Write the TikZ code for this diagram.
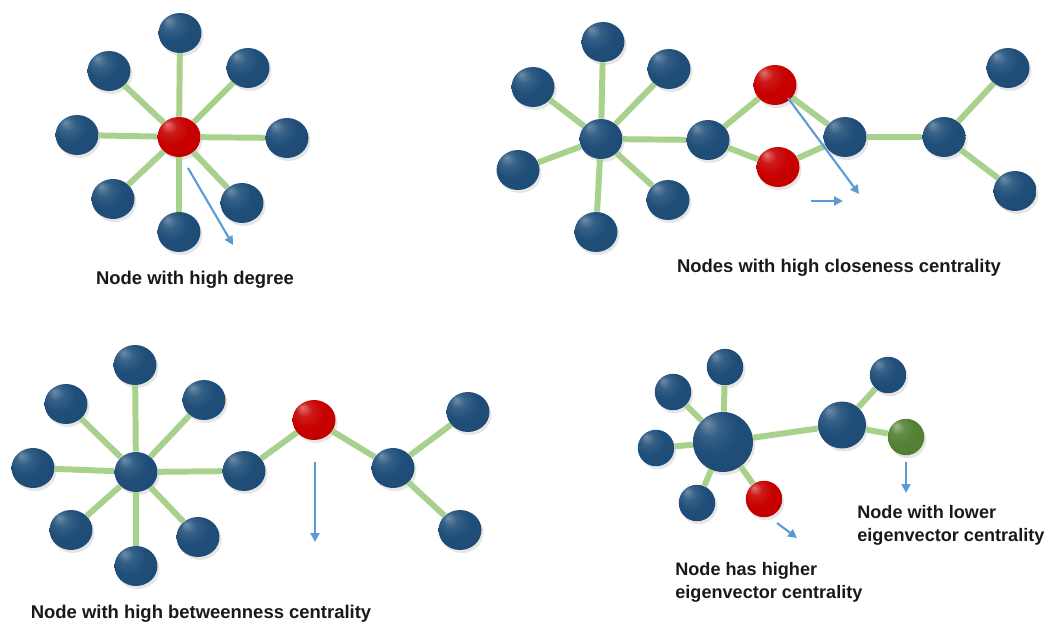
\documentclass[tikz,border=0pt]{standalone}
\usepackage{fontspec}
\setmainfont{Liberation Sans}
\usepackage{tikz}
\usetikzlibrary{shapes.geometric, arrows.meta, shadows}
\definecolor{nodeblue}{RGB}{31,78,121}
\definecolor{nodered}{RGB}{200,0,0}
\definecolor{nodegreen}{RGB}{84,130,53}
\definecolor{linkgreen}{RGB}{169,209,142}
\definecolor{arrowblue}{RGB}{91,155,213}

\pgfdeclareradialshading{blueshade}{\pgfpoint{-14bp}{16bp}}{color(0bp)=(nodeblue!65!white); color(9bp)=(nodeblue!90!white); color(20bp)=(nodeblue); color(42bp)=(nodeblue!95!black); color(50bp)=(nodeblue!80!black)}
\pgfdeclareradialshading{redshade}{\pgfpoint{-14bp}{16bp}}{color(0bp)=(nodered!55!white); color(9bp)=(nodered!90!white); color(20bp)=(nodered); color(42bp)=(nodered!95!black); color(50bp)=(nodered!80!black)}
\pgfdeclareradialshading{greenshade}{\pgfpoint{-14bp}{16bp}}{color(0bp)=(nodegreen!55!white); color(9bp)=(nodegreen!90!white); color(20bp)=(nodegreen); color(42bp)=(nodegreen!95!black); color(50bp)=(nodegreen!80!black)}

\tikzset{
  ball/.style={ellipse, inner sep=0pt, minimum width=8.6mm, minimum height=8mm,
    drop shadow={opacity=0.2, shadow xshift=0.4mm, shadow yshift=-0.6mm}},
  bnode/.style={ball, shade, shading=blueshade},
  rnode/.style={ball, shade, shading=redshade},
  gnode/.style={ball, shade, shading=greenshade},
  small/.style={minimum width=7.3mm, minimum height=7.3mm},
  link/.style={draw=linkgreen, line width=3.4pt},
  pointer/.style={draw=arrowblue, line width=1.2pt, -{Triangle[length=5pt,width=5pt]}},
  note/.style={font=\fontsize{10.5}{13}\selectfont\bfseries, text=black!90},
  sidenote/.style={note, font=\fontsize{10.3}{13}\selectfont\bfseries,
    align=left, anchor=west, inner sep=0pt}
}

\begin{document}
\begin{tikzpicture}[x=0.02cm, y=-0.02cm]
\useasboundingbox (0,0) rectangle (1047,624);

% degree
\node[rnode] (a0) at (179,137) {};
\foreach \n/\x/\y in {1/180/33, 2/109/71, 3/248/68, 4/77/135,
    5/287/138, 6/113/199, 7/242/203, 8/179/232}
    \node[bnode] (a\n) at (\x,\y) {};
\foreach \n in {1,...,8}
    \draw[link] (a0) -- (a\n);
\coordinate (pa1) at (188,168);
\coordinate (pa2) at (233,245);
\draw[pointer] (pa1) -- (pa2);
\node[note] (ta) at (195,280) {Node with high degree};

% closeness
\foreach \n/\x/\y in {0/601/139, 1/603/42, 2/533/87, 3/669/69, 4/518/170,
    5/668/200, 6/596/232, 7/708/140, 10/845/137, 11/944/137,
    12/1008/68, 13/1015/191}
    \node[bnode] (b\n) at (\x,\y) {};
\node[rnode] (b8) at (775,85) {};
\node[rnode] (b9) at (778,167) {};
\foreach \n in {1,...,7}
    \draw[link] (b0) -- (b\n);
\foreach \s/\t in {7/8, 7/9, 8/10, 9/10, 10/11, 11/12, 11/13}
    \draw[link] (b\s) -- (b\t);
\coordinate (pb1) at (788,98);
\coordinate (pb2) at (859,194);
\coordinate (pb3) at (811,201);
\coordinate (pb4) at (843,201);
\draw[pointer] (pb1) -- (pb2);
\draw[pointer] (pb3) -- (pb4);
\node[note] (tb) at (839,268) {Nodes with high closeness centrality};

% betweenness
\foreach \n/\x/\y in {0/136/472, 1/135/365, 2/66/404, 3/204/400, 4/33/468,
    5/71/530, 6/198/537, 7/136/566, 8/244/471, 10/393/468,
    11/468/412, 12/460/530}
    \node[bnode] (c\n) at (\x,\y) {};
\node[rnode] (c9) at (314,420) {};
\foreach \n in {1,...,8}
    \draw[link] (c0) -- (c\n);
\foreach \s/\t in {8/9, 9/10, 10/11, 10/12}
    \draw[link] (c\s) -- (c\t);
\coordinate (pc1) at (315,462);
\coordinate (pc2) at (315,542);
\draw[pointer] (pc1) -- (pc2);
\node[note] (tc) at (201,614) {Node with high betweenness centrality};

% eigenvector
\node[bnode, minimum width=12mm, minimum height=12mm] (d0) at (723,442) {};
\node[bnode, minimum width=9.6mm, minimum height=9.4mm] (d6) at (842,425) {};
\foreach \n/\x/\y in {1/725/367, 2/673/392, 3/656/448, 4/697/503, 7/888/375}
    \node[bnode, small] (d\n) at (\x,\y) {};
\node[rnode, small] (d5) at (764,499) {};
\node[gnode, small] (d8) at (906,437) {};
\foreach \n in {1,...,6}
    \draw[link] (d0) -- (d\n);
\draw[link] (d6) -- (d7);
\draw[link] (d6) -- (d8);
\coordinate (pd1) at (906,462);
\coordinate (pd2) at (906,493);
\coordinate (pd3) at (777,523);
\coordinate (pd4) at (797,538);
\draw[pointer] (pd1) -- (pd2);
\draw[pointer] (pd3) -- (pd4);
\node[sidenote] (td1) at (857,525) {Node with lower\\eigenvector centrality};
\node[sidenote] (td2) at (675,582) {Node has higher\\eigenvector centrality};

\end{tikzpicture}
\end{document}
